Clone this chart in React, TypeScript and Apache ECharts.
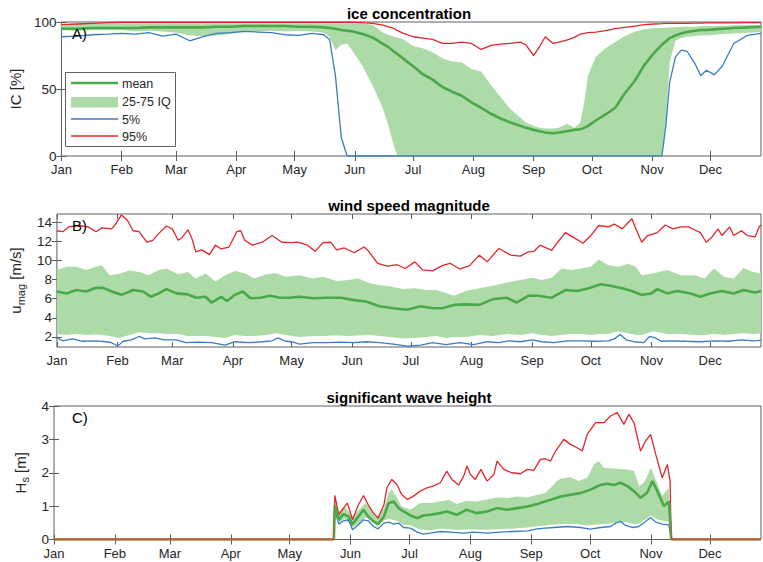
import React, { useEffect, useRef } from "react";
import * as echarts from "echarts";

// ---------- shared axis data ----------
const MONTHS = ["Jan", "Feb", "Mar", "Apr", "May", "Jun", "Jul", "Aug", "Sep", "Oct", "Nov", "Dec"];
const MONTH_START = [0, 31, 59, 90, 120, 151, 181, 212, 243, 273, 304, 334];
const DAY_MAX = 360;

// ---------- A) ice concentration [%] ----------
const ICE_TICKS = [0, 50, 100];
const ICE_DAYS = [0, 8, 16, 24, 31, 38, 45, 52, 59, 66, 73, 80, 87, 94, 101, 108, 115, 122, 129, 135, 138, 141, 144, 147, 150, 155, 160, 165, 168, 171, 173, 176, 181, 186, 191, 196, 201, 206, 211, 216, 221, 226, 231, 236, 239, 243, 246, 249, 253, 256, 260, 264, 267, 269, 271, 275, 280, 285, 290, 295, 300, 305, 309, 311, 313, 316, 319, 322, 326, 329, 332, 336, 340, 346, 353, 360];
const ICE_MEAN = [95, 95, 95.5, 95.5, 95.5, 95.5, 96, 96, 96, 96, 96, 96.5, 96.5, 97, 97, 97, 97, 96.5, 96.5, 96, 95.5, 95, 94, 93.5, 93, 91, 88.5, 84, 81.5, 78, 76, 72.5, 67, 61, 57, 51.5, 48, 45, 40, 36, 31.5, 28, 25, 22.5, 21, 19.5, 18.5, 17.5, 17, 17.5, 18.5, 19.5, 20, 21, 22.5, 26.5, 31, 36, 47, 56, 68, 77, 83, 85.5, 88, 90, 91.5, 92.5, 93.5, 94, 94, 94.5, 95, 95.5, 96, 96.5];
const ICE_Q75 = [98.5, 98.5, 99, 99, 99, 99, 99, 99, 99, 99, 99, 99, 99, 99, 99, 99, 99, 99, 99, 99, 99, 99, 99, 99, 99, 99, 98, 92.5, 90.5, 89, 88.5, 87, 82, 80.5, 77.5, 73, 70.5, 70, 65, 63, 53, 44, 35, 29, 25, 22.5, 21, 20.5, 20.5, 21, 24, 21, 25, 40, 60, 74, 80.5, 85, 89.5, 92.8, 94.5, 95.3, 95.5, 95.8, 96, 96, 96.5, 96.5, 96.5, 96.8, 97, 97, 97.2, 97.5, 97.6, 97.8];
const ICE_Q25 = [94, 93.5, 94, 94, 94, 93, 93.5, 93, 92, 90, 89.5, 90, 91, 92.5, 93, 93.5, 93, 93.5, 93, 92, 89, 79, 83, 84, 78, 67, 53, 37, 24, 8, 0, 0, 0, 0, 0, 0, 0, 0, 0, 0, 0, 0, 0, 0, 0, 0, 0, 0, 0, 0, 0, 0, 0, 0, 0, 0, 0, 0, 0, 0, 0, 0, 0, 25, 70, 86, 88, 89, 89.5, 90, 90, 90.5, 91, 91.5, 92, 92.5];
const ICE_P5 = [89, 89.5, 90.5, 91, 91.5, 91, 92, 89.5, 91, 86, 89, 91.5, 92, 93, 92.5, 92, 90.5, 90, 91.5, 90.5, 87, 60, 14, 0, 0, 0, 0, 0, 0, 0, 0, 0, 0, 0, 0, 0, 0, 0, 0, 0, 0, 0, 0, 0, 0, 0, 0, 0, 0, 0, 0, 0, 0, 0, 0, 0, 0, 0, 0, 0, 0, 0, 0, 22, 55, 74, 79, 78, 69, 60, 64, 60.5, 67, 84, 90, 91.5];
const ICE_P95 = [98, 98.5, 99, 99.5, 99.8, 99.8, 99.8, 99.8, 99.8, 99.8, 99.8, 99.8, 99.8, 99.8, 99.8, 99.8, 99.8, 99.8, 99.8, 99.8, 99.8, 99.8, 99.8, 99.8, 99.8, 99.6, 99, 97.8, 96.5, 95.3, 93.5, 91.5, 89, 88, 87, 84, 84, 85, 84, 79.5, 82.5, 83.5, 84, 85, 83, 75, 81.5, 89, 84, 85, 86.5, 88.5, 91, 91.5, 92, 92.5, 93.5, 95, 96, 97, 98, 98.5, 98.8, 99, 99, 99, 99, 99, 99.2, 99.2, 99.3, 99.3, 99.4, 99.4, 99.5, 99.5];

// ---------- B) wind speed magnitude [m/s] ----------
const WIND_TICKS = [2, 4, 6, 8, 10, 12, 14];
const WIND_P95_DAYS = [0, 3, 6, 11, 16, 20, 23, 28, 30, 33, 36, 39, 42, 46, 49, 52, 56, 59, 62, 64, 67, 69, 71, 74, 78, 81, 84, 88, 92, 94, 96, 100, 105, 110, 115, 120, 123, 128, 132, 136, 140, 143, 147, 152, 157, 159, 164, 169, 174, 178, 183, 187, 192, 197, 201, 206, 211, 216, 220, 226, 232, 237, 241, 244, 247, 253, 256, 260, 265, 269, 273, 277, 282, 285, 289, 294, 296, 299, 302, 307, 311, 315, 319, 323, 326, 329, 332, 335, 338, 340, 344, 346, 350, 353, 357, 359, 360];
const WIND_P95 = [13.1, 13.0, 13.5, 13.65, 13.5, 13.0, 13.4, 13.3, 13.8, 14.75, 14.2, 13.1, 13.0, 11.9, 12.1, 12.8, 13.6, 13.3, 12.1, 12.4, 13.2, 12.3, 10.9, 11.1, 10.6, 11.6, 11.2, 11.4, 13.0, 13.1, 12.1, 11.6, 11.9, 12.6, 11.9, 11.85, 11.9, 11.6, 10.95, 11.85, 11.9, 11.1, 11.3, 10.8, 11.4, 11.05, 9.7, 9.4, 9.55, 9.15, 9.85, 9.0, 8.9, 9.45, 9.7, 9.1, 9.45, 10.55, 9.85, 11.25, 10.55, 10.45, 10.9, 10.95, 11.6, 11.05, 11.9, 12.9, 12.3, 11.8, 12.6, 13.65, 13.5, 13.8, 13.3, 14.35, 13.3, 11.9, 12.6, 12.9, 13.7, 13.3, 13.5, 13.5, 13.2, 12.9, 11.9, 12.45, 13.3, 12.6, 13.5, 12.6, 13.1, 12.6, 12.45, 13.5, 13.7];
const WIND_MEAN_DAYS = [0, 5, 10, 15, 20, 24, 28, 33, 39, 44, 48, 52, 56, 61, 67, 71, 76, 79, 84, 87, 91, 95, 99, 104, 109, 114, 119, 124, 131, 138, 145, 152, 158, 165, 172, 179, 186, 192, 197, 203, 209, 216, 223, 230, 235, 241, 246, 253, 260, 266, 272, 278, 283, 289, 294, 299, 304, 307, 312, 317, 324, 329, 334, 340, 346, 351, 357, 360];
const WIND_MEAN = [6.75, 6.55, 6.9, 6.75, 7.15, 7.1, 6.75, 6.4, 6.9, 6.75, 6.2, 6.55, 7.0, 6.55, 6.45, 6.1, 6.2, 5.6, 6.2, 5.75, 6.4, 6.75, 6.05, 6.1, 6.3, 6.1, 6.1, 6.2, 6.05, 6.1, 6.1, 5.85, 5.7, 5.2, 5.0, 4.85, 5.2, 5.0, 5.0, 5.35, 5.4, 5.35, 5.95, 6.1, 5.6, 6.3, 6.3, 6.1, 6.9, 6.8, 7.1, 7.5, 7.35, 7.1, 6.8, 6.4, 6.55, 7.0, 6.55, 6.8, 6.55, 6.2, 6.55, 6.8, 6.55, 6.9, 6.65, 6.8];
const WIND_BAND_DAYS = [0, 5, 10, 15, 20, 23, 27, 32, 37, 42, 47, 52, 56, 62, 67, 71, 76, 81, 86, 91, 96, 101, 107, 112, 117, 124, 131, 136, 143, 149, 154, 160, 165, 170, 177, 183, 189, 194, 199, 203, 209, 216, 223, 230, 237, 243, 248, 253, 258, 263, 268, 273, 277, 282, 287, 292, 296, 299, 305, 312, 319, 326, 331, 336, 341, 346, 351, 356, 360];
const WIND_Q75 = [9.0, 9.35, 9.35, 9.0, 9.35, 9.5, 8.45, 8.6, 8.95, 8.8, 8.45, 9.0, 9.15, 8.55, 8.8, 8.1, 8.65, 7.8, 8.45, 8.9, 8.65, 8.1, 8.55, 8.65, 8.3, 8.45, 8.1, 8.3, 7.85, 7.95, 8.1, 7.6, 7.4, 7.3, 7.0, 7.1, 6.9, 6.9, 6.6, 6.3, 6.8, 7.1, 7.35, 7.7, 7.95, 8.2, 7.95, 8.2, 9.15, 9.0, 9.15, 9.35, 10.1, 9.5, 9.35, 9.65, 9.35, 8.45, 8.65, 9.0, 8.45, 8.45, 8.1, 9.15, 8.3, 8.1, 9.2, 8.8, 8.65];
const WIND_Q25 = [2.3, 2.2, 2.3, 2.2, 2.25, 2.2, 2.1, 1.9, 2.2, 2.5, 2.4, 2.4, 2.3, 2.3, 2.1, 2.1, 2.1, 2.0, 1.9, 2.2, 2.1, 2.1, 2.2, 2.4, 2.2, 2.0, 2.1, 2.1, 2.15, 2.1, 2.15, 2.2, 2.1, 2.0, 1.85, 1.9, 2.0, 2.1, 1.9, 2.0, 2.0, 2.2, 2.1, 2.3, 2.2, 2.4, 2.2, 2.1, 2.2, 2.3, 2.3, 2.2, 2.3, 2.3, 2.6, 2.4, 2.2, 2.2, 2.6, 2.3, 2.3, 2.2, 2.2, 2.3, 2.2, 2.3, 2.4, 2.3, 2.35];
const WIND_P5_DAYS = [0, 3, 8, 13, 20, 25, 28, 31, 34, 38, 42, 45, 50, 55, 61, 66, 72, 79, 86, 91, 98, 105, 110, 113, 117, 120, 124, 131, 138, 145, 152, 158, 165, 172, 179, 186, 192, 199, 206, 213, 220, 226, 231, 237, 243, 248, 254, 261, 268, 275, 282, 285, 288, 291, 295, 300, 303, 306, 309, 316, 322, 329, 336, 343, 350, 356, 360];
const WIND_P5 = [1.9, 1.6, 1.8, 1.55, 1.6, 1.5, 1.4, 1.05, 1.55, 1.7, 2.05, 1.8, 1.9, 1.7, 1.7, 1.4, 1.45, 1.4, 1.15, 1.5, 1.4, 1.5, 1.6, 1.9, 1.55, 1.5, 1.25, 1.4, 1.4, 1.45, 1.4, 1.5, 1.4, 1.25, 1.05, 1.15, 1.4, 1.2, 1.4, 1.2, 1.5, 1.4, 1.6, 1.5, 1.7, 1.5, 1.4, 1.6, 1.6, 1.55, 1.6, 1.8, 2.25, 1.7, 1.5, 1.4, 2.05, 1.9, 1.55, 1.6, 1.55, 1.5, 1.6, 1.55, 1.7, 1.6, 1.65];

// ---------- C) significant wave height [m] ----------
const WAVE_TICKS = [0, 1, 2, 3, 4];
const WAVE_P95_DAYS = [0, 142.5, 143, 145, 147.4, 149.4, 152, 155, 157.6, 160, 162.7, 165, 168, 169.5, 172, 174.6, 177, 180, 183, 186.5, 190, 193, 196.7, 200, 202.6, 206, 208.6, 210.3, 212, 214.5, 217.4, 220.5, 224, 225.6, 229, 233, 237.5, 241, 244.3, 247.7, 250.2, 252.8, 255.4, 259.6, 263, 266.4, 269, 271.5, 275.8, 280, 283.4, 286.8, 290.2, 292.7, 295.3, 298.7, 301.2, 303.8, 306.4, 309.7, 312.3, 313.7, 314.3, 360];
const WAVE_P95 = [0, 0, 1.32, 0.74, 0.94, 1.09, 0.59, 1.04, 1.32, 1.04, 0.79, 0.64, 1.04, 1.55, 1.8, 1.65, 1.35, 1.2, 1.3, 1.45, 1.55, 1.6, 1.7, 2.05, 1.8, 1.63, 1.9, 2.2, 1.95, 1.8, 2.1, 1.75, 1.95, 2.35, 2.1, 2.0, 1.97, 2.1, 2.07, 2.4, 2.42, 2.35, 2.65, 3.0, 2.85, 2.75, 2.65, 3.15, 3.5, 3.5, 3.7, 3.8, 3.45, 3.75, 3.5, 2.65, 2.95, 3.15, 2.55, 1.85, 2.25, 1.75, 0, 0];
const WAVE_MEAN_DAYS = [0, 142.5, 143, 145, 147.4, 150, 152, 155, 157.6, 160, 162.7, 165, 168, 170.4, 173, 175.5, 178, 181.5, 185, 188, 191.6, 196.7, 200, 205, 210, 215, 220.5, 225.6, 230.7, 235.8, 241, 246, 250, 253, 258, 263, 268, 273, 278, 281.7, 285, 288.5, 292, 295.3, 298.7, 302, 304.7, 307.2, 310.6, 313.1, 314.3, 360];
const WAVE_MEAN = [0, 0, 1.04, 0.59, 0.76, 0.69, 0.46, 0.69, 0.89, 0.69, 0.54, 0.46, 0.69, 1.09, 1.14, 0.94, 0.84, 0.72, 0.64, 0.72, 0.74, 0.79, 0.84, 0.74, 0.89, 0.79, 0.84, 0.94, 0.89, 0.94, 0.99, 1.06, 1.14, 1.19, 1.29, 1.34, 1.39, 1.49, 1.63, 1.67, 1.63, 1.7, 1.6, 1.45, 1.25, 1.4, 1.75, 1.45, 1.0, 1.14, 0, 0];
const WAVE_BAND_DAYS = [0, 142.5, 143, 145, 148, 152, 156, 158.5, 161, 164.4, 168, 170.4, 172, 174.6, 177, 181.5, 186.5, 191.6, 196.7, 201, 205, 210, 215, 220.5, 225.6, 230.7, 235.8, 241, 246, 250, 253, 256, 258, 263, 267, 271.5, 275, 277.4, 280, 285, 292, 295.3, 298, 300.4, 304, 306.4, 309.7, 313, 314.3, 360];
const WAVE_Q75 = [0, 0, 1.0, 0.84, 0.99, 0.69, 0.94, 1.09, 0.94, 0.69, 0.94, 1.4, 1.5, 1.25, 0.99, 0.9, 1.09, 1.09, 1.14, 1.19, 1.06, 1.16, 1.14, 1.2, 1.26, 1.24, 1.29, 1.26, 1.34, 1.39, 1.55, 1.75, 1.82, 1.87, 1.75, 1.85, 2.25, 2.35, 2.15, 2.13, 2.1, 2.05, 1.6, 1.7, 2.15, 1.8, 1.3, 1.55, 0, 0];
const WAVE_Q25 = [0, 0, 0.9, 0.52, 0.62, 0.36, 0.52, 0.66, 0.62, 0.4, 0.56, 0.62, 0.6, 0.56, 0.46, 0.42, 0.3, 0.28, 0.32, 0.31, 0.29, 0.3, 0.3, 0.29, 0.31, 0.32, 0.34, 0.36, 0.4, 0.42, 0.44, 0.45, 0.46, 0.47, 0.46, 0.42, 0.44, 0.46, 0.46, 0.5, 0.52, 0.46, 0.48, 0.58, 0.72, 0.62, 0.56, 0.55, 0, 0];
const WAVE_P5_DAYS = [0, 142.5, 143, 145, 147.4, 150, 152, 155, 157.6, 160, 162.7, 165, 168, 170.4, 173, 175.5, 178, 181.5, 185, 188, 191.6, 196.7, 201.8, 208.6, 213.7, 220.5, 227.3, 234, 241, 246, 250, 254.5, 261.3, 268, 273, 278.3, 283.4, 286, 288.5, 291, 294.4, 297.8, 301.2, 303.8, 306.4, 309.7, 313.1, 314.3, 360];
const WAVE_P5 = [0, 0, 0.89, 0.46, 0.56, 0.59, 0.29, 0.44, 0.59, 0.56, 0.39, 0.32, 0.49, 0.52, 0.46, 0.49, 0.36, 0.34, 0.22, 0.16, 0.19, 0.24, 0.22, 0.19, 0.22, 0.19, 0.22, 0.24, 0.26, 0.32, 0.34, 0.36, 0.39, 0.36, 0.31, 0.36, 0.39, 0.49, 0.54, 0.42, 0.36, 0.39, 0.54, 0.66, 0.52, 0.46, 0.44, 0, 0];

// ---------- styling ----------
const GREEN = "#4aa84a";
const BAND = "#addba7";
const BLUE = "#3a7cc2";
const RED = "#e2252b";
const BROWN = "#ad6530";
const AXIS = "#5e5e5e";
const TEXT = "#262626";
const FONT = "'Liberation Sans', Arial, Helvetica, sans-serif";

const pairs = (days: number[], vals: number[]) => days.map((d, i) => [d, vals[i]]);

const GRIDS = [
  { left: 54, right: 2, top: 22, height: 134 },
  { left: 54, right: 2, top: 214, height: 133 },
  { left: 54, right: 2, top: 406, height: 133.5 },
];

const tickStyle = (values: number[], length: number) => ({
  show: true,
  inside: true,
  length,
  customValues: values,
  lineStyle: { color: AXIS, width: 1 },
});

function xAxesFor(gi: number) {
  const base = {
    type: "value",
    gridIndex: gi,
    min: 0,
    max: DAY_MAX,
    splitLine: { show: false },
    axisLine: { show: false },
  };
  return [
    {
      ...base,
      position: "bottom",
      axisTick: tickStyle(MONTH_START, 5),
      axisLabel: {
        customValues: MONTH_START,
        formatter: (v: number) => {
          const k = MONTH_START.indexOf(v);
          return k >= 0 ? MONTHS[k] : "";
        },
        color: TEXT,
        fontSize: 13,
        lineHeight: 13,
        fontFamily: FONT,
        margin: 7,
      },
    },
    { ...base, position: "top", axisTick: tickStyle(MONTH_START, 5), axisLabel: { show: false } },
  ];
}

function yAxesFor(gi: number, min: number, max: number, ticks: number[], name: string, nameGap: number) {
  const base = {
    type: "value",
    gridIndex: gi,
    min,
    max,
    splitLine: { show: false },
    axisLine: { show: false },
  };
  return [
    {
      ...base,
      position: "left",
      axisTick: tickStyle(ticks, 5),
      axisLabel: { customValues: ticks, color: TEXT, fontSize: 13.5, lineHeight: 13, fontFamily: FONT, margin: 5 },
      name,
      nameLocation: "middle",
      nameGap,
      nameRotate: 90,
      nameTextStyle: {
        color: TEXT,
        fontSize: 15,
        fontFamily: FONT,
        rich: {
          n: { color: TEXT, fontSize: 15, fontFamily: FONT, lineHeight: 18, verticalAlign: "top" },
          s: { color: TEXT, fontSize: 11, fontFamily: FONT, lineHeight: 8, verticalAlign: "bottom" },
        },
      },
    },
    { ...base, position: "right", axisTick: tickStyle(ticks, 5), axisLabel: { show: false } },
  ];
}

// Interquartile band: one polygon running along the 75th percentile and back along the 25th.
function bandSeries(gi: number, days: number[], q25: number[], q75: number[]) {
  return {
    type: "custom",
    name: "25-75 IQ",
    xAxisIndex: gi * 2,
    yAxisIndex: gi * 2,
    silent: true,
    clip: true,
    data: days.map((d, i) => [d, q25[i], q75[i]]),
    encode: { x: 0, y: [1, 2] },
    renderItem: (params: any, api: any) => {
      if (params.dataIndex !== 0) return null;
      const top = days.map((d, i) => api.coord([d, q75[i]]));
      const bottom = days.map((d, i) => api.coord([d, q25[i]])).reverse();
      return {
        type: "polygon",
        shape: { points: top.concat(bottom) },
        style: { fill: BAND, stroke: "none" },
      };
    },
  };
}

function panelSeries(
  gi: number,
  band: [number[], number[], number[]],
  p5: [number[], number[]],
  p95: [number[], number[]],
  mean: [number[], number[]]
) {
  const common = { type: "line", symbol: "none", showSymbol: false, silent: true, xAxisIndex: gi * 2, yAxisIndex: gi * 2 };
  return [
    bandSeries(gi, band[0], band[1], band[2]),
    { ...common, name: "5%", data: pairs(p5[0], p5[1]), lineStyle: { color: BLUE, width: 1.3 }, itemStyle: { color: BLUE } },
    { ...common, name: "95%", data: pairs(p95[0], p95[1]), lineStyle: { color: RED, width: 1.3 }, itemStyle: { color: RED } },
    { ...common, name: "mean", data: pairs(mean[0], mean[1]), lineStyle: { color: GREEN, width: 2.6 }, itemStyle: { color: GREEN } },
  ];
}

function buildOption() {
  const series: any[] = [
    ...panelSeries(0, [ICE_DAYS, ICE_Q25, ICE_Q75], [ICE_DAYS, ICE_P5], [ICE_DAYS, ICE_P95], [ICE_DAYS, ICE_MEAN]),
    ...panelSeries(1, [WIND_BAND_DAYS, WIND_Q25, WIND_Q75], [WIND_P5_DAYS, WIND_P5], [WIND_P95_DAYS, WIND_P95], [WIND_MEAN_DAYS, WIND_MEAN]),
    ...panelSeries(2, [WAVE_BAND_DAYS, WAVE_Q25, WAVE_Q75], [WAVE_P5_DAYS, WAVE_P5], [WAVE_P95_DAYS, WAVE_P95], [WAVE_MEAN_DAYS, WAVE_MEAN]),
  ];
  const waveRed = 2 * 4 + 2;
  const waveMean = 2 * 4 + 3;
  // These two take their stroke colour from the season visual map below.
  series[waveRed].lineStyle = { width: 1.3 };
  series[waveMean].lineStyle = { width: 2.6 };

  // Outside the open-water season all wave statistics sit on zero and draw as one brown trace.
  const seasonPieces = (inside: string) => [
    { lt: 142.8, color: BROWN },
    { gte: 142.8, lte: 314.3, color: inside },
    { gt: 314.3, color: BROWN },
  ];

  const titleText = (text: string, y: number) => ({
    type: "text",
    x: 409,
    y,
    z: 100,
    style: { text, fill: "#000", font: `bold 15px ${FONT}`, align: "center", verticalAlign: "middle" },
  });
  const panelTag = (text: string, y: number) => ({
    type: "text",
    x: 72,
    y,
    z: 100,
    style: { text, fill: "#000", font: `15px ${FONT}`, align: "left", verticalAlign: "middle" },
  });
  const legendText = (text: string, y: number) => ({
    type: "text",
    x: 122,
    y,
    z: 101,
    style: { text, fill: TEXT, font: `12.5px ${FONT}`, align: "left", verticalAlign: "middle" },
  });

  return {
    animation: false,
    backgroundColor: "#fff",
    grid: GRIDS.map((g) => ({ ...g, show: true, borderColor: AXIS, borderWidth: 1, backgroundColor: "transparent" })),
    xAxis: [...xAxesFor(0), ...xAxesFor(1), ...xAxesFor(2)],
    yAxis: [
      ...yAxesFor(0, 0, 100, ICE_TICKS, "IC [%]", 29),
      ...yAxesFor(1, 0.95, 14.85, WIND_TICKS, "{n|u}{s|mag}{n| [m/s]}", 22),
      ...yAxesFor(2, 0, 4, WAVE_TICKS, "{n|H}{s|s}{n| [m]}", 20),
    ],
    visualMap: [
      { type: "piecewise", show: false, seriesIndex: waveRed, dimension: 0, pieces: seasonPieces(RED) },
      { type: "piecewise", show: false, seriesIndex: waveMean, dimension: 0, pieces: seasonPieces(GREEN) },
    ],
    series,
    graphic: [
      titleText("ice concentration", 13),
      titleText("wind speed magnitude", 205),
      titleText("significant wave height", 397),
      panelTag("A)", 33),
      panelTag("B)", 225),
      panelTag("C)", 417),
      {
        type: "rect",
        z: 100,
        shape: { x: 65.5, y: 72.5, width: 110, height: 74 },
        style: { fill: "#fff", stroke: "#3a3a3a", lineWidth: 0.8 },
      },
      { type: "line", z: 101, shape: { x1: 71, y1: 83, x2: 118, y2: 83 }, style: { stroke: GREEN, lineWidth: 2.6 } },
      { type: "rect", z: 101, shape: { x: 71, y: 97, width: 47, height: 10.5 }, style: { fill: BAND } },
      { type: "line", z: 101, shape: { x1: 71, y1: 119, x2: 118, y2: 119 }, style: { stroke: BLUE, lineWidth: 1.3 } },
      { type: "line", z: 101, shape: { x1: 71, y1: 136, x2: 118, y2: 136 }, style: { stroke: RED, lineWidth: 1.3 } },
      legendText("mean", 84),
      legendText("25-75 IQ", 102),
      legendText("5%", 119.5),
      legendText("95%", 136.5),
    ],
  };
}

export default function App() {
  const ref = useRef<HTMLDivElement>(null);
  useEffect(() => {
    if (!ref.current) return;
    const chart = echarts.init(ref.current, undefined, { renderer: "svg" });
    chart.setOption(buildOption() as any);
    return () => chart.dispose();
  }, []);
  return (
    <div
      ref={ref}
      style={{ position: "fixed", left: 0, top: 0, width: 763, height: 562, background: "#fff" }}
    />
  );
}
